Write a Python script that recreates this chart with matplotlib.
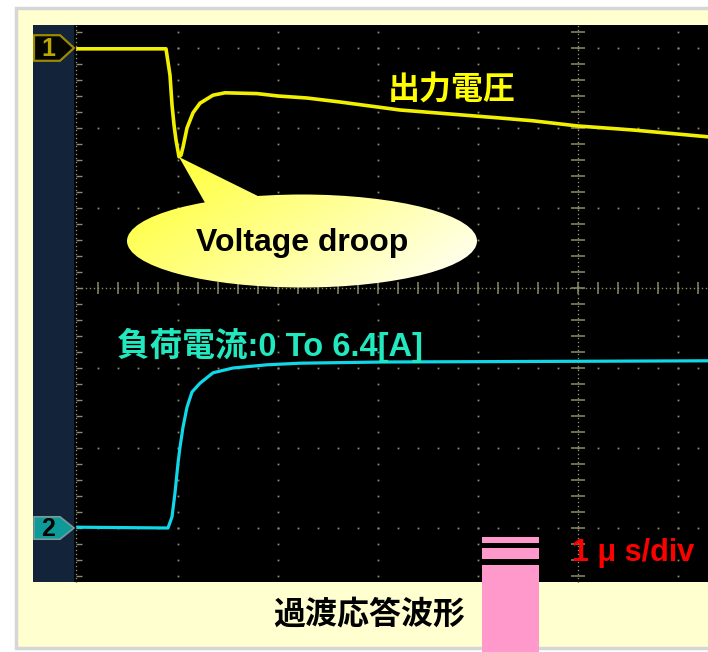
import matplotlib
matplotlib.use("Agg")
import matplotlib.pyplot as plt
import numpy as np
from matplotlib.patches import Rectangle, Polygon, Ellipse

# traces: x in divisions (1 div = 1 us), y in divisions from centre
v_t = [0.00, 0.88, 0.92, 0.94, 0.96, 0.98, 1.01, 1.03, 1.05, 1.09, 1.15, 1.22, 1.35, 1.47,
       1.79, 2.00, 2.29, 2.62, 3.22, 4.22, 4.55, 5.00, 5.55, 6.30]
v_y = [2.99, 2.99, 2.66, 2.29, 2.04, 1.85, 1.64, 1.66, 1.76, 2.00, 2.19, 2.31, 2.41, 2.44,
       2.43, 2.40, 2.375, 2.325, 2.225, 2.125, 2.09, 2.025, 1.975, 1.89]
i_t = [0.00, 0.90, 0.94, 0.97, 1.00, 1.02, 1.05, 1.09, 1.14, 1.22, 1.35, 1.55, 1.89, 2.22, 3.05, 6.30]
i_y = [-2.99, -3.0, -2.86, -2.56, -2.19, -1.99, -1.74, -1.49, -1.30, -1.19, -1.06, -1.0,
       -0.96, -0.94, -0.925, -0.91]

v_label = "出力電圧"
i_label = "負荷電流:0 To 6.4[A]"
droop_label = "Voltage droop"
timebase = "1 μ s/div"
caption = "過渡応答波形"
ch_names = ["1", "2"]

W, H = 708, 652
fig = plt.figure(figsize=(W / 100, H / 100), dpi=100, facecolor="white")

# cream panel with grey frame
fig.patches.append(Rectangle((16 / W, 4 / H), 0.99, 640 / H, transform=fig.transFigure,
                             facecolor="#ffffcf", edgecolor="#d6d6d6", lw=2.5, zorder=-5))

ax = fig.add_axes([33 / W, (H - 582) / H, 675 / W, 557 / H])
ax.set_facecolor("black")
for s in ax.spines.values():
    s.set_visible(False)
ax.set_xticks([])
ax.set_yticks([])
X0, X1, Y0, Y1 = -0.45, 6.30, -3.675, 3.2875

ax.axvspan(X0, -0.05, color="#13233a", zorder=0)

# graticule
gc = "#8c8c6c"
yy = np.arange(-3.6, 3.3, 0.2)
xx = np.arange(0.2, 6.31, 0.2)
for xv in [1, 2, 3, 4, 6]:
    ax.plot(np.full(len(yy), xv), yy, ls="none", marker="s", ms=1.3, mew=0, color=gc, zorder=1)
for yv in [-3, -2, -1, 1, 2, 3]:
    ax.plot(xx, np.full(len(xx), yv), ls="none", marker="s", ms=1.3, mew=0, color=gc, zorder=1)
dy = np.arange(Y0, Y1, 0.05)
dx = np.arange(0, X1, 0.04)
ax.plot(np.full(len(dy), 5), dy, ls="none", marker="s", ms=1.0, mew=0, color=gc, zorder=1)
ax.hlines(yy, 4.93, 5.07, color=gc, lw=1.1, zorder=1)
ax.plot(dx, np.zeros(len(dx)), ls="none", marker="s", ms=1.0, mew=0, color=gc, zorder=1)
ax.vlines(xx, -0.07, 0.07, color=gc, lw=1.1, zorder=1)
ax.plot(np.full(len(dy), -0.02), dy, ls="none", marker="s", ms=1.0, mew=0, color=gc, zorder=1)
ax.hlines(yy, -0.02, 0.04, color=gc, lw=1.0, zorder=1)

# traces
ax.plot(v_t, v_y, color="#f2f000", lw=2.6, zorder=3, solid_joinstyle="round")
ax.plot(i_t, i_y, color="#10d8e8", lw=2.3, zorder=3, solid_joinstyle="round")

# channel markers
m1 = Polygon([(-0.44, 3.16), (-0.18, 3.16), (-0.04, 3.0), (-0.18, 2.84), (-0.44, 2.84)],
             closed=True, facecolor="#050500", edgecolor="#9a8a00", lw=1.6, zorder=4)
m2 = Polygon([(-0.44, -2.86), (-0.18, -2.86), (-0.04, -3.0), (-0.18, -3.14), (-0.44, -3.14)],
             closed=True, facecolor="#0f9a9a", edgecolor="#7a9a9a", lw=1.2, zorder=4)
ax.add_patch(m1)
ax.add_patch(m2)
ax.text(-0.30, 2.99, ch_names[0], color="#b8a800", fontsize=18, weight="bold",
        ha="center", va="center", family="Liberation Sans", zorder=5)
ax.text(-0.30, -3.01, ch_names[1], color="black", fontsize=18, weight="bold",
        ha="center", va="center", family="Liberation Sans", zorder=5)

# callout bubble with yellow->white gradient
bx0, bx1, by0, by1 = 0.49, 3.99, 0.0, 1.65
gx, gy = np.meshgrid(np.linspace(0, 1, 300), np.linspace(0, 1, 150))
t = np.clip(0.65 * gx + 0.35 * (1 - gy), 0, 1)
rgb = np.dstack([np.ones_like(t), np.ones_like(t), 0.15 + 0.85 * t])
ell = Ellipse((2.24, 0.5875), 3.5, 1.1625, facecolor="none", edgecolor="none")
tri = Polygon([(1.01, 1.6375), (1.30, 1.0), (1.96, 1.05)], closed=True,
              facecolor="none", edgecolor="none")
ax.add_patch(ell)
ax.add_patch(tri)
for p in (ell, tri):
    im = ax.imshow(rgb, extent=[bx0, bx1, by0, by1], origin="lower", aspect="auto",
                   interpolation="bilinear", zorder=5)
    im.set_clip_path(p)
ax.text(2.24, 0.5625, droop_label, color="black", fontsize=23, weight="bold",
        ha="center", va="center", family="Liberation Sans", zorder=6)

fam = ["Liberation Sans", "Noto Sans CJK JP"]
ax.text(3.74, 2.475, v_label, color="#ffff00", fontsize=23, weight="bold",
        ha="center", va="center", family=["Noto Sans CJK JP"], zorder=6)
ax.text(1.92, -0.7125, i_label, color="#22e8c0", fontsize=23.5, weight="bold",
        ha="center", va="center", family=fam, zorder=6)
ax.text(5.55, -3.3125, timebase, color="#ff0000", fontsize=22, weight="bold",
        ha="center", va="center", family="Liberation Sans", zorder=6)

ax.set_xlim(X0, X1)
ax.set_ylim(Y0, Y1)

# overlay in pixel units for the pink marker bar and caption
ov = fig.add_axes([0, 0, 1, 1], facecolor="none")
ov.set_xlim(0, W)
ov.set_ylim(H, 0)
ov.axis("off")
for ya, yb in [(537, 543), (548, 559), (565, 653)]:
    ov.add_patch(Rectangle((482, ya), 57, yb - ya, facecolor="#ff99cc", edgecolor="none"))
ov.text(369, 614, caption, color="black", fontsize=23, weight="bold",
        ha="center", va="center", family=["Noto Sans CJK JP"])

fig.savefig("out.png", dpi=100, facecolor=fig.get_facecolor())
